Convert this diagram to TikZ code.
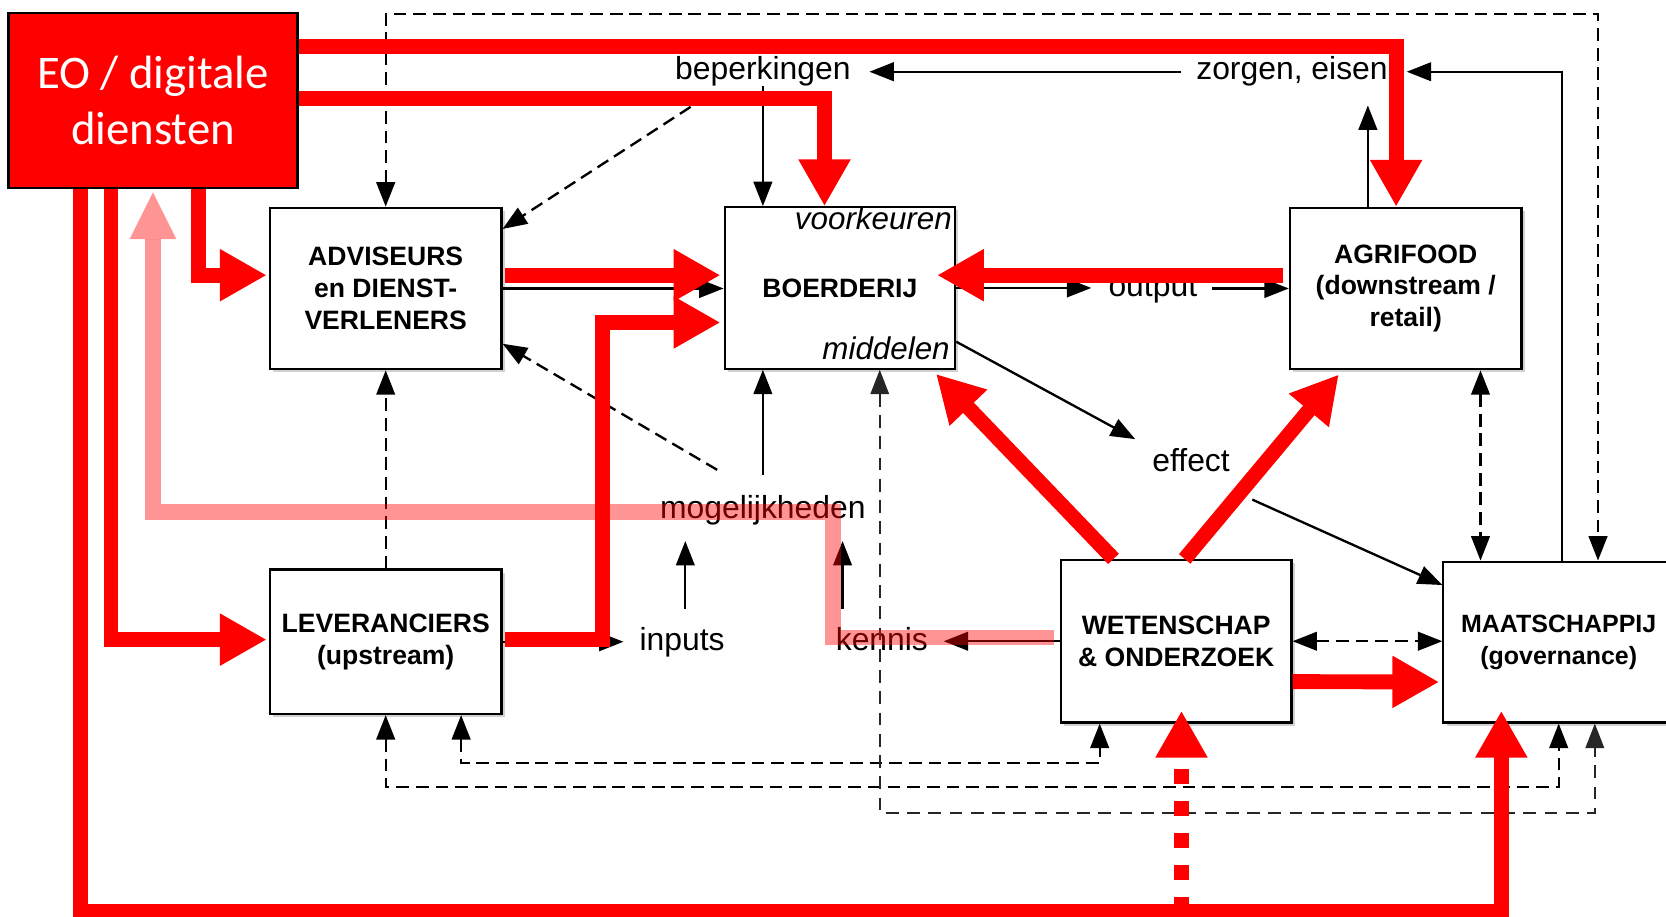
\documentclass[tikz,border=0pt]{standalone}
\usepackage{fontspec}
\setmainfont{Liberation Sans}
\newfontfamily\eofont{Carlito}
\usetikzlibrary{arrows.meta,shadows,calc}
\tikzset{
  box/.style={draw=black, line width=2pt, fill=white, minimum width=218pt, minimum height=152pt,
    align=center, inner sep=0pt, font=\fontsize{25}{30}\selectfont\bfseries,
    drop shadow={shadow xshift=3pt, shadow yshift=-3pt, opacity=0.18, fill=black}},
  eobox/.style={draw=black, line width=2pt, fill=red, text=white, minimum width=272pt,
    minimum height=165pt, inner sep=0pt, align=center, font=\eofont\fontsize{44}{53.5}\selectfont},
  lbl/.style={inner sep=0pt, font=\fontsize{30}{36}\selectfont, text height=21pt, text depth=6pt},
  itl/.style={inner sep=0pt, font=\fontsize{29.5}{36}\selectfont\itshape},
  arr/.style={line width=2.2pt, arrows={-Triangle[length=23pt,width=17.5pt]}},
  dsh/.style={line width=2.2pt, dash pattern=on 12pt off 6.5pt},
  dsharr/.style={dsh, arrows={-Triangle[length=23pt,width=17.5pt]}},
  darr/.style={dsh, arrows={Triangle[length=23pt,width=17.5pt]-Triangle[length=23pt,width=17.5pt]}},
  thindarr/.style={line width=1.4pt, draw=black!85, dash pattern=on 12pt off 8pt,
    arrows={Triangle[length=23pt,width=17.5pt]-Triangle[length=23pt,width=17.5pt]}},
  redarr/.style={draw=red, line width=14pt, arrows={-Triangle[length=44pt,width=46pt]}},
  pinkl/.style={draw=red, draw opacity=0.42, line width=15pt},
  pinkf/.style={fill=red, fill opacity=0.42},
}
\begin{document}
\begin{tikzpicture}[x=1pt,y=-1pt]
\useasboundingbox (0,0) rectangle (1568,863);
\clip (0,0) rectangle (1568,863);

% boxes
\node[eobox] (eo) at (144,94.5) {EO / digitale\\diensten};
\node[box] (adv) at (363,271.5) {ADVISEURS\\en DIENST-\\VERLENERS};
\node[box, minimum height=136pt] (lev) at (363,604) {LEVERANCIERS\\(upstream)};
\node[box, minimum width=217pt] (boer) at (790.5,271) {BOERDERIJ};
\node[box] (agri) at (1323,271.5) {AGRIFOOD\\(downstream /\\retail)};
\node[box, minimum width=217pt, minimum height=153pt] (wet) at (1107,603.5) {WETENSCHAP\\\& ONDERZOEK};
\node[box, minimum width=217pt, minimum height=151.4pt, font=\fontsize{23.5}{30}\selectfont\bfseries] (maat) at (1467,604.3) {MAATSCHAPPIJ\\(governance)};

% labels
\node[lbl] (bep) at (718,67.5) {beperkingen};
\node[lbl] (zorg) at (1216,67.5) {zorgen, eisen};
\node[lbl] (outp) at (1085,271.5) {output};
\node[lbl] (eff) at (1121,436.5) {effect};
\node[lbl] (mog) at (718,480.5) {mogelijkheden};
\node[lbl] (inp) at (642,604.5) {inputs};
\node[lbl] (ken) at (830,604.5) {kennis};
\node[itl, anchor=base east] (vk) at ([xshift=-4pt,yshift=-22pt]boer.north east) {voorkeuren};
\node[itl, anchor=base east] (md) at ([xshift=-6pt,yshift=10pt]boer.south east) {middelen};

% helper coordinates
\coordinate (agriT) at ([xshift=-35.6pt]agri.north);
\coordinate (mogT) at ([yshift=20pt]mog.north);
\coordinate (inpT) at ([xshift=3pt,yshift=18pt]inp.north);
\coordinate (kenT) at ([xshift=-37pt,yshift=18pt]ken.north);
\coordinate (agriB) at ([xshift=70.4pt]agri.south);

% black solid arrows
\draw[arr, shorten <=14pt, shorten >=17.5pt] (zorg.west) -- (bep.east);
\draw[arr, shorten >=18pt] (agriT) -- (agriT |- zorg.south);
\draw[arr, shorten >=17.7pt] ([xshift=3pt]maat.north) |- (zorg.east);
\draw[arr] (bep.south) -- (bep.south |- boer.north);
\draw[arr] (mogT) -- (mogT |- boer.south);
\draw[arr, shorten >=15pt] (inpT) -- (inpT |- mog.south);
\draw[arr, shorten >=15pt] (kenT) -- (kenT |- mog.south);
\draw[arr, shorten >=15pt] (lev.east) -- (lev.east -| inp.west);
\draw[arr, shorten >=14.6pt] (wet.west) -- (wet.west -| ken.east);
\draw[arr] (adv.east) -- (adv.east -| boer.west);
\draw[arr, shorten >=16pt] (boer.east) -- (boer.east -| outp.west);
\draw[arr, shorten <=14pt] (outp.east) -- (outp.east -| agri.west);
\draw[arr] ([yshift=-50.6pt]boer.east) -- ([xshift=-16pt,yshift=9.5pt]eff.north west);
\draw[arr] ([xshift=21pt,yshift=-20pt]eff.south east) -- ([yshift=-23pt]maat.north west);

% dashed arrows
\draw[darr] (adv.north) -- ++(0,-181.5) -| ([xshift=37pt]maat.north);
\draw[dsharr] (lev.north) -- (adv.south);
\draw[dsharr] ([xshift=-68pt,yshift=-19.4pt]bep.south) -- ([yshift=-21pt]adv.north east);
\draw[dsharr] ([xshift=-43pt,yshift=24.6pt]mog.north) -- ([yshift=25pt]adv.south east);
\draw[darr] (agriB) -- (agriB |- maat.north);
\draw[darr] (wet.east) -- (wet.east -| maat.west);
\draw[darr] ([xshift=71pt]lev.south) -- ++(0,45) -| ([xshift=-72pt]wet.south);
\draw[darr] (lev.south) -- ++(0,68) -| (maat.south);
\draw[thindarr] ([xshift=37.5pt]boer.south) -- ++(0,417) -| ([xshift=34pt]maat.south);

% red arrows
\draw[redarr] ([yshift=50.5pt]eo.east) -| ([xshift=-9pt]agri.north);
\draw[redarr] ([yshift=1.5pt]eo.east) -| ([xshift=-14.5pt]boer.north);
\draw[redarr] ([xshift=42.5pt]eo.south) |- ([xshift=-2pt,yshift=12.5pt]adv.west);
\draw[redarr] ([xshift=-39.5pt]eo.south) |- ([xshift=-2pt,yshift=2pt]lev.west);
\draw[redarr] ([xshift=-68.4pt]eo.south) -- ++(0,680) -| ([xshift=-54pt,yshift=12pt]maat.south);
\draw[redarr, dash pattern=on 14pt off 16pt] ([xshift=5pt,yshift=-177pt]wet.south) -- ([xshift=5pt,yshift=12pt]wet.south);
\draw[redarr] ([xshift=2pt,yshift=12.5pt]adv.east) -- ([xshift=-3pt,yshift=12pt]boer.west);
\draw[redarr] ([xshift=2pt,yshift=2pt]lev.east) -- ++(92,0) |- ([xshift=-3pt,yshift=-32.5pt]boer.west);
\draw[redarr] ([xshift=-5.5pt,yshift=12.5pt]agri.west) -- ([xshift=-18pt,yshift=12pt]boer.east);
\draw[redarr] ([xshift=-59pt]wet.north) -- ([xshift=-19pt,yshift=-4pt]boer.south east);
\draw[redarr] ([xshift=8pt]wet.north) -- ([xshift=-63pt,yshift=-4pt]agri.south);
\draw[redarr] ([yshift=-38pt]wet.east) -- ([xshift=-3pt,yshift=-37.6pt]maat.west);

% pink (translucent) arrow from WETENSCHAP to EO
\draw[pinkl] ([xshift=-5.5pt,yshift=3.5pt]wet.west) -- ++(-208,0) -- ++(0,-118) -| ([yshift=-47pt]eo.south);
\fill[pinkf] ([yshift=-3pt]eo.south) -- ++(22,44) -- ++(-44,0) -- cycle;
\end{tikzpicture}
\end{document}
